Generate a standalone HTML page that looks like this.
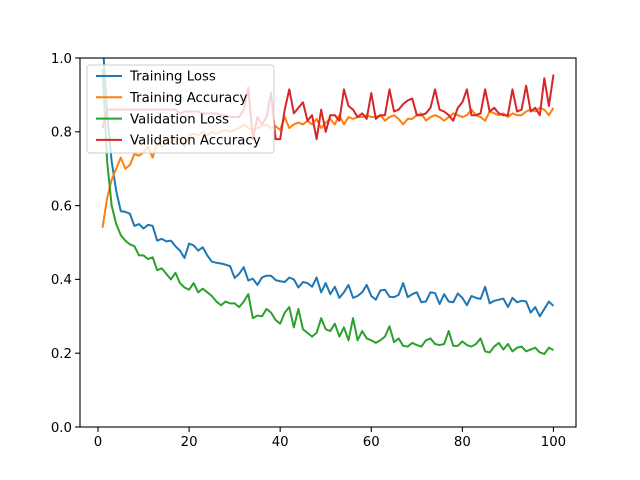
<!DOCTYPE html>
<html><head><meta charset="utf-8"><style>
body{margin:0;background:#fff}
svg{display:block;font-family:"DejaVu Sans","Liberation Sans",sans-serif}
</style></head><body>
<svg id="chart" width="640" height="480"></svg>
<script>
const epochs = Array.from({length:100},(_,i)=>i+1);
const trainLoss = [1.05,0.85,0.72,0.64,0.585,0.583,0.578,0.545,0.55,0.538,0.548,0.545,0.505,0.51,0.503,0.505,0.49,0.478,0.458,0.497,0.492,0.478,0.487,0.465,0.448,0.445,0.443,0.44,0.436,0.404,0.415,0.433,0.397,0.402,0.385,0.405,0.41,0.41,0.398,0.395,0.393,0.405,0.4,0.378,0.393,0.39,0.38,0.405,0.365,0.39,0.36,0.38,0.35,0.365,0.385,0.35,0.355,0.365,0.385,0.355,0.345,0.37,0.372,0.353,0.352,0.358,0.39,0.352,0.36,0.365,0.338,0.34,0.365,0.363,0.333,0.36,0.34,0.338,0.362,0.35,0.33,0.355,0.35,0.347,0.38,0.335,0.342,0.345,0.348,0.325,0.35,0.338,0.342,0.34,0.31,0.325,0.3,0.32,0.34,0.328];
const trainAcc = [0.54,0.62,0.67,0.70,0.73,0.70,0.71,0.74,0.735,0.745,0.76,0.73,0.77,0.76,0.775,0.77,0.785,0.78,0.76,0.79,0.795,0.79,0.80,0.79,0.80,0.795,0.80,0.805,0.80,0.805,0.81,0.82,0.81,0.805,0.81,0.815,0.82,0.81,0.815,0.805,0.84,0.81,0.82,0.825,0.82,0.83,0.82,0.835,0.81,0.825,0.835,0.82,0.845,0.82,0.84,0.835,0.84,0.84,0.845,0.84,0.84,0.845,0.83,0.84,0.845,0.835,0.82,0.835,0.835,0.845,0.85,0.83,0.84,0.845,0.84,0.83,0.84,0.85,0.845,0.84,0.845,0.86,0.845,0.84,0.83,0.855,0.85,0.845,0.85,0.84,0.85,0.845,0.845,0.855,0.86,0.855,0.865,0.86,0.845,0.865];
const valLoss = [0.97,0.72,0.6,0.55,0.52,0.505,0.495,0.49,0.465,0.465,0.455,0.46,0.425,0.43,0.415,0.4,0.418,0.39,0.378,0.372,0.39,0.365,0.375,0.365,0.355,0.34,0.33,0.34,0.335,0.335,0.325,0.34,0.36,0.295,0.302,0.3,0.32,0.31,0.29,0.28,0.31,0.325,0.27,0.32,0.265,0.255,0.245,0.255,0.295,0.265,0.26,0.28,0.245,0.27,0.235,0.295,0.235,0.26,0.24,0.235,0.228,0.235,0.245,0.273,0.23,0.24,0.22,0.218,0.228,0.222,0.218,0.235,0.24,0.225,0.222,0.225,0.26,0.22,0.22,0.232,0.222,0.218,0.225,0.24,0.205,0.202,0.218,0.228,0.21,0.225,0.205,0.215,0.218,0.205,0.21,0.215,0.202,0.198,0.215,0.208];
const valAcc = [0.81,0.86,0.86,0.86,0.86,0.86,0.86,0.86,0.86,0.86,0.86,0.86,0.86,0.86,0.86,0.86,0.86,0.85,0.855,0.855,0.855,0.855,0.85,0.85,0.85,0.85,0.845,0.845,0.84,0.84,0.84,0.86,0.92,0.78,0.84,0.82,0.84,0.905,0.78,0.78,0.86,0.915,0.85,0.865,0.88,0.83,0.845,0.78,0.86,0.80,0.845,0.845,0.83,0.915,0.87,0.86,0.84,0.85,0.835,0.905,0.835,0.845,0.845,0.915,0.855,0.86,0.875,0.885,0.89,0.845,0.845,0.85,0.865,0.915,0.86,0.855,0.845,0.83,0.865,0.88,0.915,0.845,0.845,0.85,0.915,0.855,0.865,0.85,0.845,0.845,0.915,0.855,0.86,0.925,0.855,0.865,0.845,0.945,0.87,0.955];
const xTicks = [0,20,40,60,80,100];
const yTicks = [0.0,0.2,0.4,0.6,0.8,1.0];
const seriesNames = ["Training Loss","Training Accuracy","Validation Loss","Validation Accuracy"];
const seriesColors = ["#1f77b4","#ff7f0e","#2ca02c","#d62728"];
const seriesData = [trainLoss,trainAcc,valLoss,valAcc];

const L=80,R=576,T=58,B=427, xmin=-3.95, xmax=104.95;
const sx=v=>L+(v-xmin)/(xmax-xmin)*(R-L);
const sy=v=>B-v*(B-T);
const NS="http://www.w3.org/2000/svg";
const svg=document.getElementById('chart');
function mk(tag,attrs,parent){const e=document.createElementNS(NS,tag);for(const k in attrs)e.setAttribute(k,attrs[k]);(parent||svg).appendChild(e);return e;}
const defs=mk('defs',{});
const cp=mk('clipPath',{id:'clip'},defs);
mk('rect',{x:L,y:T,width:R-L,height:B-T},cp);
const g=mk('g',{'clip-path':'url(#clip)'});
seriesData.forEach((d,si)=>{
  const p=mk('polyline',{points:d.map((v,i)=>sx(epochs[i])+','+sy(v)).join(' '),fill:'none',stroke:seriesColors[si],'stroke-width':2,'stroke-linejoin':'round'},g);
  
  
});
const frame=mk('rect',{x:L,y:T,width:R-L,height:B-T,fill:'none',stroke:'#000','stroke-width':1.1});


xTicks.forEach(t=>{
  const x=sx(t);
  mk('line',{x1:x,x2:x,y1:B,y2:B+4.9,stroke:'#000','stroke-width':1.1});
  const tx=mk('text',{x:x,y:B+19,'text-anchor':'middle','font-size':'13.3px',fill:'#000'});
  tx.textContent=t;
  
  
});
yTicks.forEach(t=>{
  const y=sy(t);
  mk('line',{x1:L-4.9,x2:L,y1:y,y2:y,stroke:'#000','stroke-width':1.1});
  const tx=mk('text',{x:L-8,y:y+4.8,'text-anchor':'end','font-size':'13.3px',fill:'#000'});
  tx.textContent=t.toFixed(1);
  
  
});
const lg=mk('g',{});


mk('rect',{x:87,y:65,width:187,height:88,rx:3,fill:'#fff','fill-opacity':0.8,stroke:'#ccc','stroke-width':1},lg);
seriesNames.forEach((n,i)=>{
  const y=76+i*21.3;
  mk('line',{x1:96,x2:122,y1:y,y2:y,stroke:seriesColors[i],'stroke-width':2},lg);
  const tx=mk('text',{x:130,y:y+4.7,'font-size':'13.3px',fill:'#000'},lg);
  tx.textContent=n;
  
  
});
</script>
</body></html>
